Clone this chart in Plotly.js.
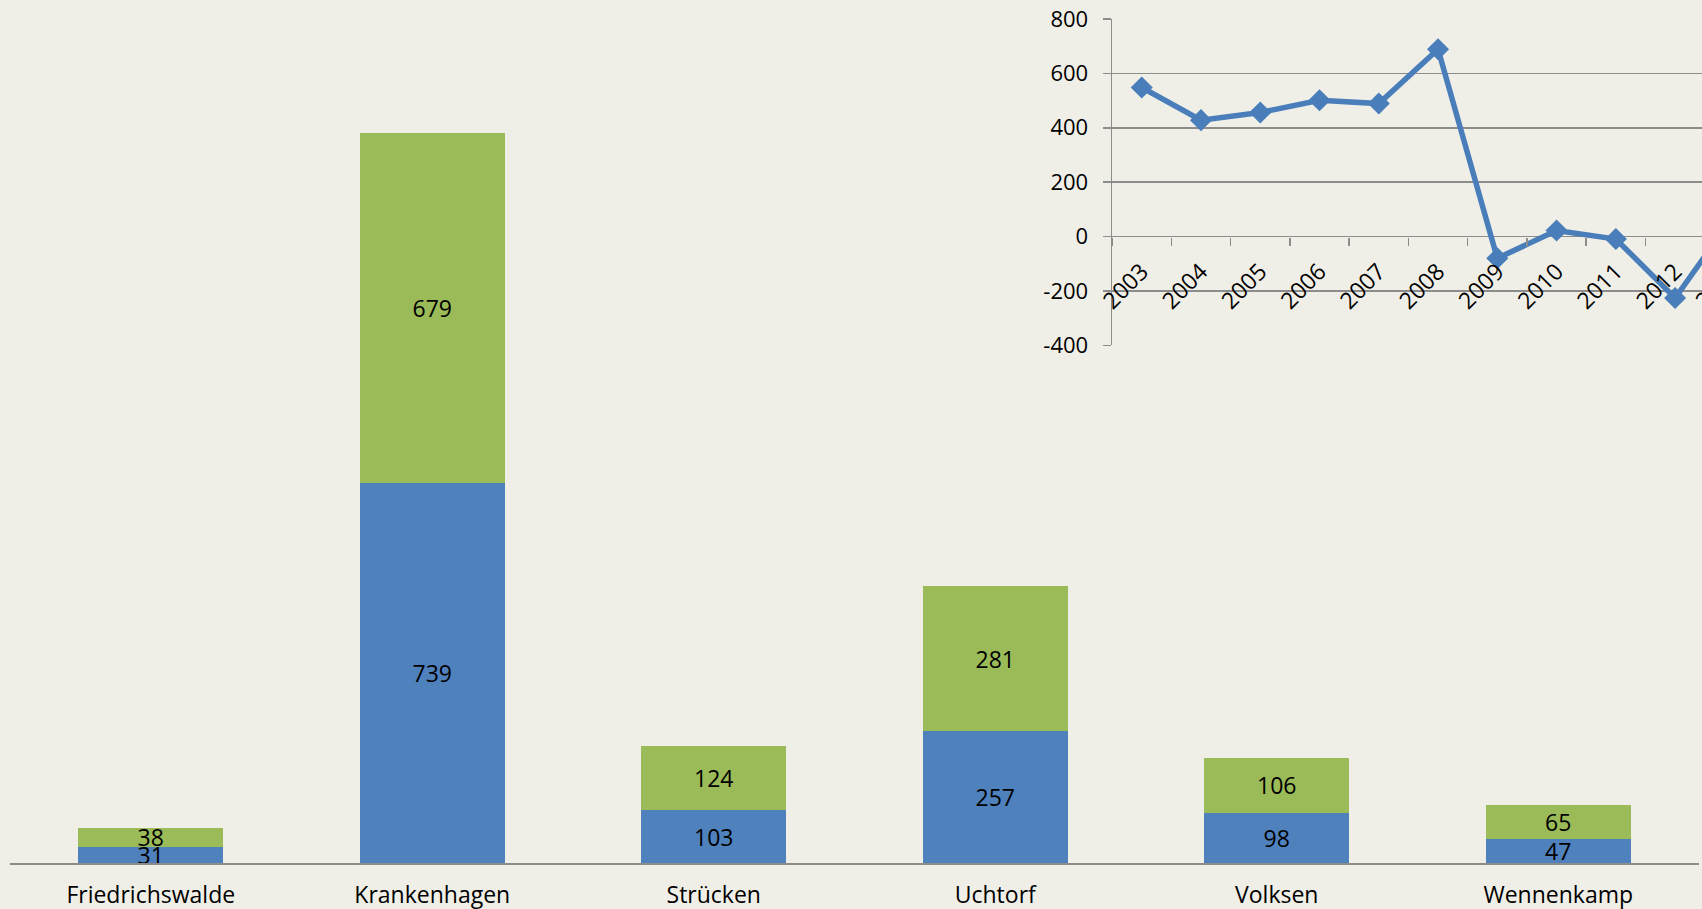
<!DOCTYPE html>
<html>
<head>
<meta charset="utf-8">
<script src="https://cdn.plot.ly/plotly-3.0.1.min.js"></script>
<style>
  html, body { margin: 0; padding: 0; overflow: hidden; background: #F0EFE7; }
  #chart { width: 1800px; height: 909px; }
</style>
</head>
<body>
<div id="chart"></div>
<script>
// Main stacked bar chart
const villages = ["Friedrichswalde", "Krankenhagen", "Strücken", "Uchtorf", "Volksen", "Wennenkamp"];
const blueValues = [31, 739, 103, 257, 98, 47];
const greenValues = [38, 679, 124, 281, 106, 65];

// Inset line chart
const years = ["2003", "2004", "2005", "2006", "2007", "2008", "2009", "2010", "2011", "2012", "2013"];
const lineValues = [548, 428, 456, 501, 489, 689, -80, 22, -9, -226, 80];
const insetTickVals = [-400, -200, 0, 200, 400, 600, 800];
const insetTickText = ["-400", "-200", "0", "200", "400", "600", "800"];

const W = 1800, H = 909;
const bg = "#F0EFE7";
const font = "Open Sans, Liberation Sans, sans-serif";

const barText = {
  textposition: "inside", insidetextanchor: "middle",
  constraintext: "none", textangle: 0,
  textfont: { family: font, size: 23, color: "#000" },
  xaxis: "x", yaxis: "y", hoverinfo: "x+y"
};

const traces = [
  Object.assign({
    type: "bar", x: villages, y: blueValues, name: "blue",
    marker: { color: "#4F81BD" },
    text: blueValues.map(String)
  }, barText),
  Object.assign({
    type: "bar", x: villages, y: greenValues, name: "green",
    marker: { color: "#9BBB59" },
    text: greenValues.map(String)
  }, barText),
  {
    type: "scatter", mode: "lines+markers", x: years, y: lineValues,
    line: { color: "#4A7EBB", width: 5.5 },
    marker: { symbol: "diamond", size: 17, color: "#4A7EBB" },
    xaxis: "x2", yaxis: "y2", cliponaxis: true
  }
];

const yBottom = (H - 863) / H;
const yTop = yBottom + 1600 * 0.51446 / H;

const layout = {
  width: W, height: H,
  margin: { l: 0, r: 0, t: 0, b: 0 },
  paper_bgcolor: bg, plot_bgcolor: bg,
  showlegend: false,
  barmode: "stack",
  bargap: 0.485,
  xaxis: {
    domain: [10 / W, 1699 / W],
    anchor: "y",
    showline: true, linecolor: "#8C8C8C", linewidth: 2,
    ticks: "", showgrid: false, zeroline: false,
    tickfont: { family: font, size: 23, color: "#000" },
    automargin: false,
    ticklabelstandoff: 10
  },
  yaxis: {
    domain: [yBottom, yTop],
    range: [0, 1600],
    visible: false, showgrid: false, zeroline: false,
    automargin: false
  },
  xaxis2: {
    domain: [1112.1 / W, 1764 / W],
    range: [-0.5, 10.5],
    anchor: "free",
    position: 0.6201 + (0.9791 - 0.6201) / 3,
    type: "category",
    showline: false, showgrid: false, zeroline: false,
    ticks: "outside", tickson: "boundaries", ticklen: 8, tickcolor: "#8C8C8C", tickwidth: 1.5,
    tickangle: -45,
    tickfont: { family: font, size: 23, color: "#000" },
    ticklabelstandoff: 16,
    automargin: false
  },
  yaxis2: {
    domain: [0.6201, 0.9791],
    range: [-400, 800],
    anchor: "x2",
    tickvals: insetTickVals, ticktext: insetTickText,
    showline: true, linecolor: "#8C8C8C", linewidth: 1.5,
    showgrid: true, gridcolor: "#8C8C8C", gridwidth: 1.5,
    zeroline: false,
    ticks: "outside", ticklen: 8, tickcolor: "#8C8C8C", tickwidth: 1.5,
    tickfont: { family: font, size: 22, color: "#000" },
    ticklabelstandoff: 10,
    automargin: false
  }
};

Plotly.newPlot("chart", traces, layout, { displayModeBar: false, staticPlot: true });
</script>
</body>
</html>
